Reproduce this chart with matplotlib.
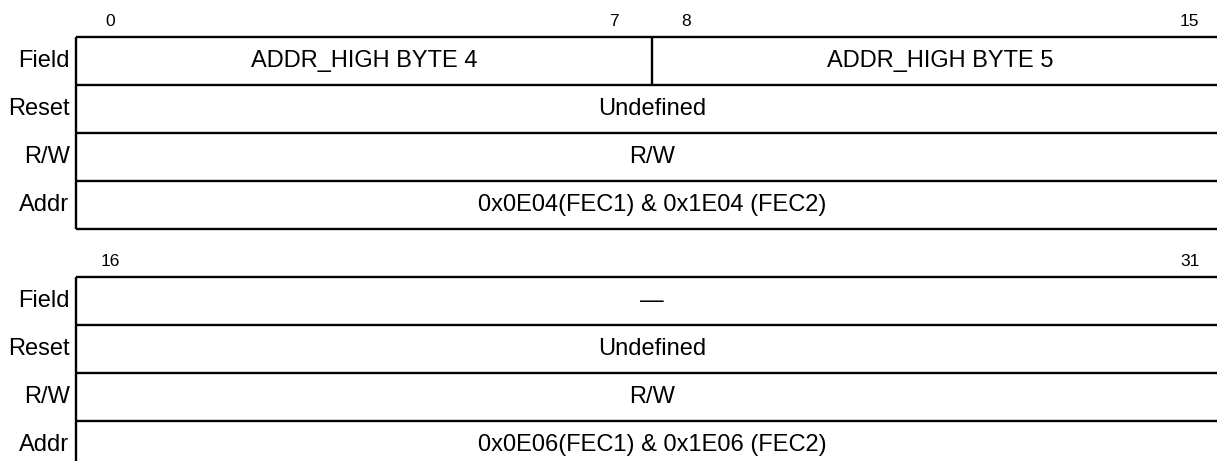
import matplotlib
matplotlib.use("Agg")
import matplotlib.pyplot as plt

plt.rcParams['font.family'] = ['Liberation Sans', 'DejaVu Sans']

# register layout: two 16-bit halves, four rows each
row_names = ['Field', 'Reset', 'R/W', 'Addr']

top_bits = [0, 7, 8, 15]
top_fields = [(0, 8, 'ADDR_HIGH BYTE 4'), (8, 16, 'ADDR_HIGH BYTE 5')]
top_reset = 'Undefined'
top_rw = 'R/W'
top_addr = '0x0E04(FEC1) & 0x1E04 (FEC2)'

bot_bits = [16, 31]
bot_fields = [(0, 16, '\u2014')]
bot_reset = 'Undefined'
bot_rw = 'R/W'
bot_addr = '0x0E06(FEC1) & 0x1E06 (FEC2)'

W, H = 1217, 461
bit_px = 72
left_px = 76
row_h = 48

fig = plt.figure(figsize=(W / 100, H / 100), dpi=100)
ax = fig.add_axes([0, 0, 1, 1])
ax.set_xlim(-left_px / bit_px, (W - left_px) / bit_px)
ax.set_ylim(H / row_h, 0)
ax.axis('off')

lw = 1.7
fs = 17


def draw_block(y0, bits, fields, reset, rw, addr, first_bit):
    # bit numbers above the box
    for b in bits:
        ax.text(b - first_bit + 0.47, y0 - 0.33, str(b), ha='center', va='center', fontsize=12.5)
    # horizontal lines
    for i in range(5):
        ax.plot([0, 16.5], [y0 + i, y0 + i], color='black', lw=lw, solid_capstyle='butt')
    ax.plot([0, 0], [y0, y0 + 4], color='black', lw=lw, solid_capstyle='butt')
    for i, name in enumerate(row_names):
        ax.text(-0.09, y0 + i + 0.5, name, ha='right', va='center', fontsize=fs)
    for a, b, label in fields:
        if a > 0:
            ax.plot([a, a], [y0, y0 + 1], color='black', lw=lw, solid_capstyle='butt')
        ax.text((a + b) / 2, y0 + 0.5, label, ha='center', va='center', fontsize=fs)
    for i, label in enumerate([reset, rw, addr]):
        ax.text(8, y0 + i + 1.5, label, ha='center', va='center', fontsize=fs)


draw_block(37 / row_h, top_bits, top_fields, top_reset, top_rw, top_addr, 0)
draw_block(277 / row_h, bot_bits, bot_fields, bot_reset, bot_rw, bot_addr, 16)

fig.savefig('out.png', dpi=100)
